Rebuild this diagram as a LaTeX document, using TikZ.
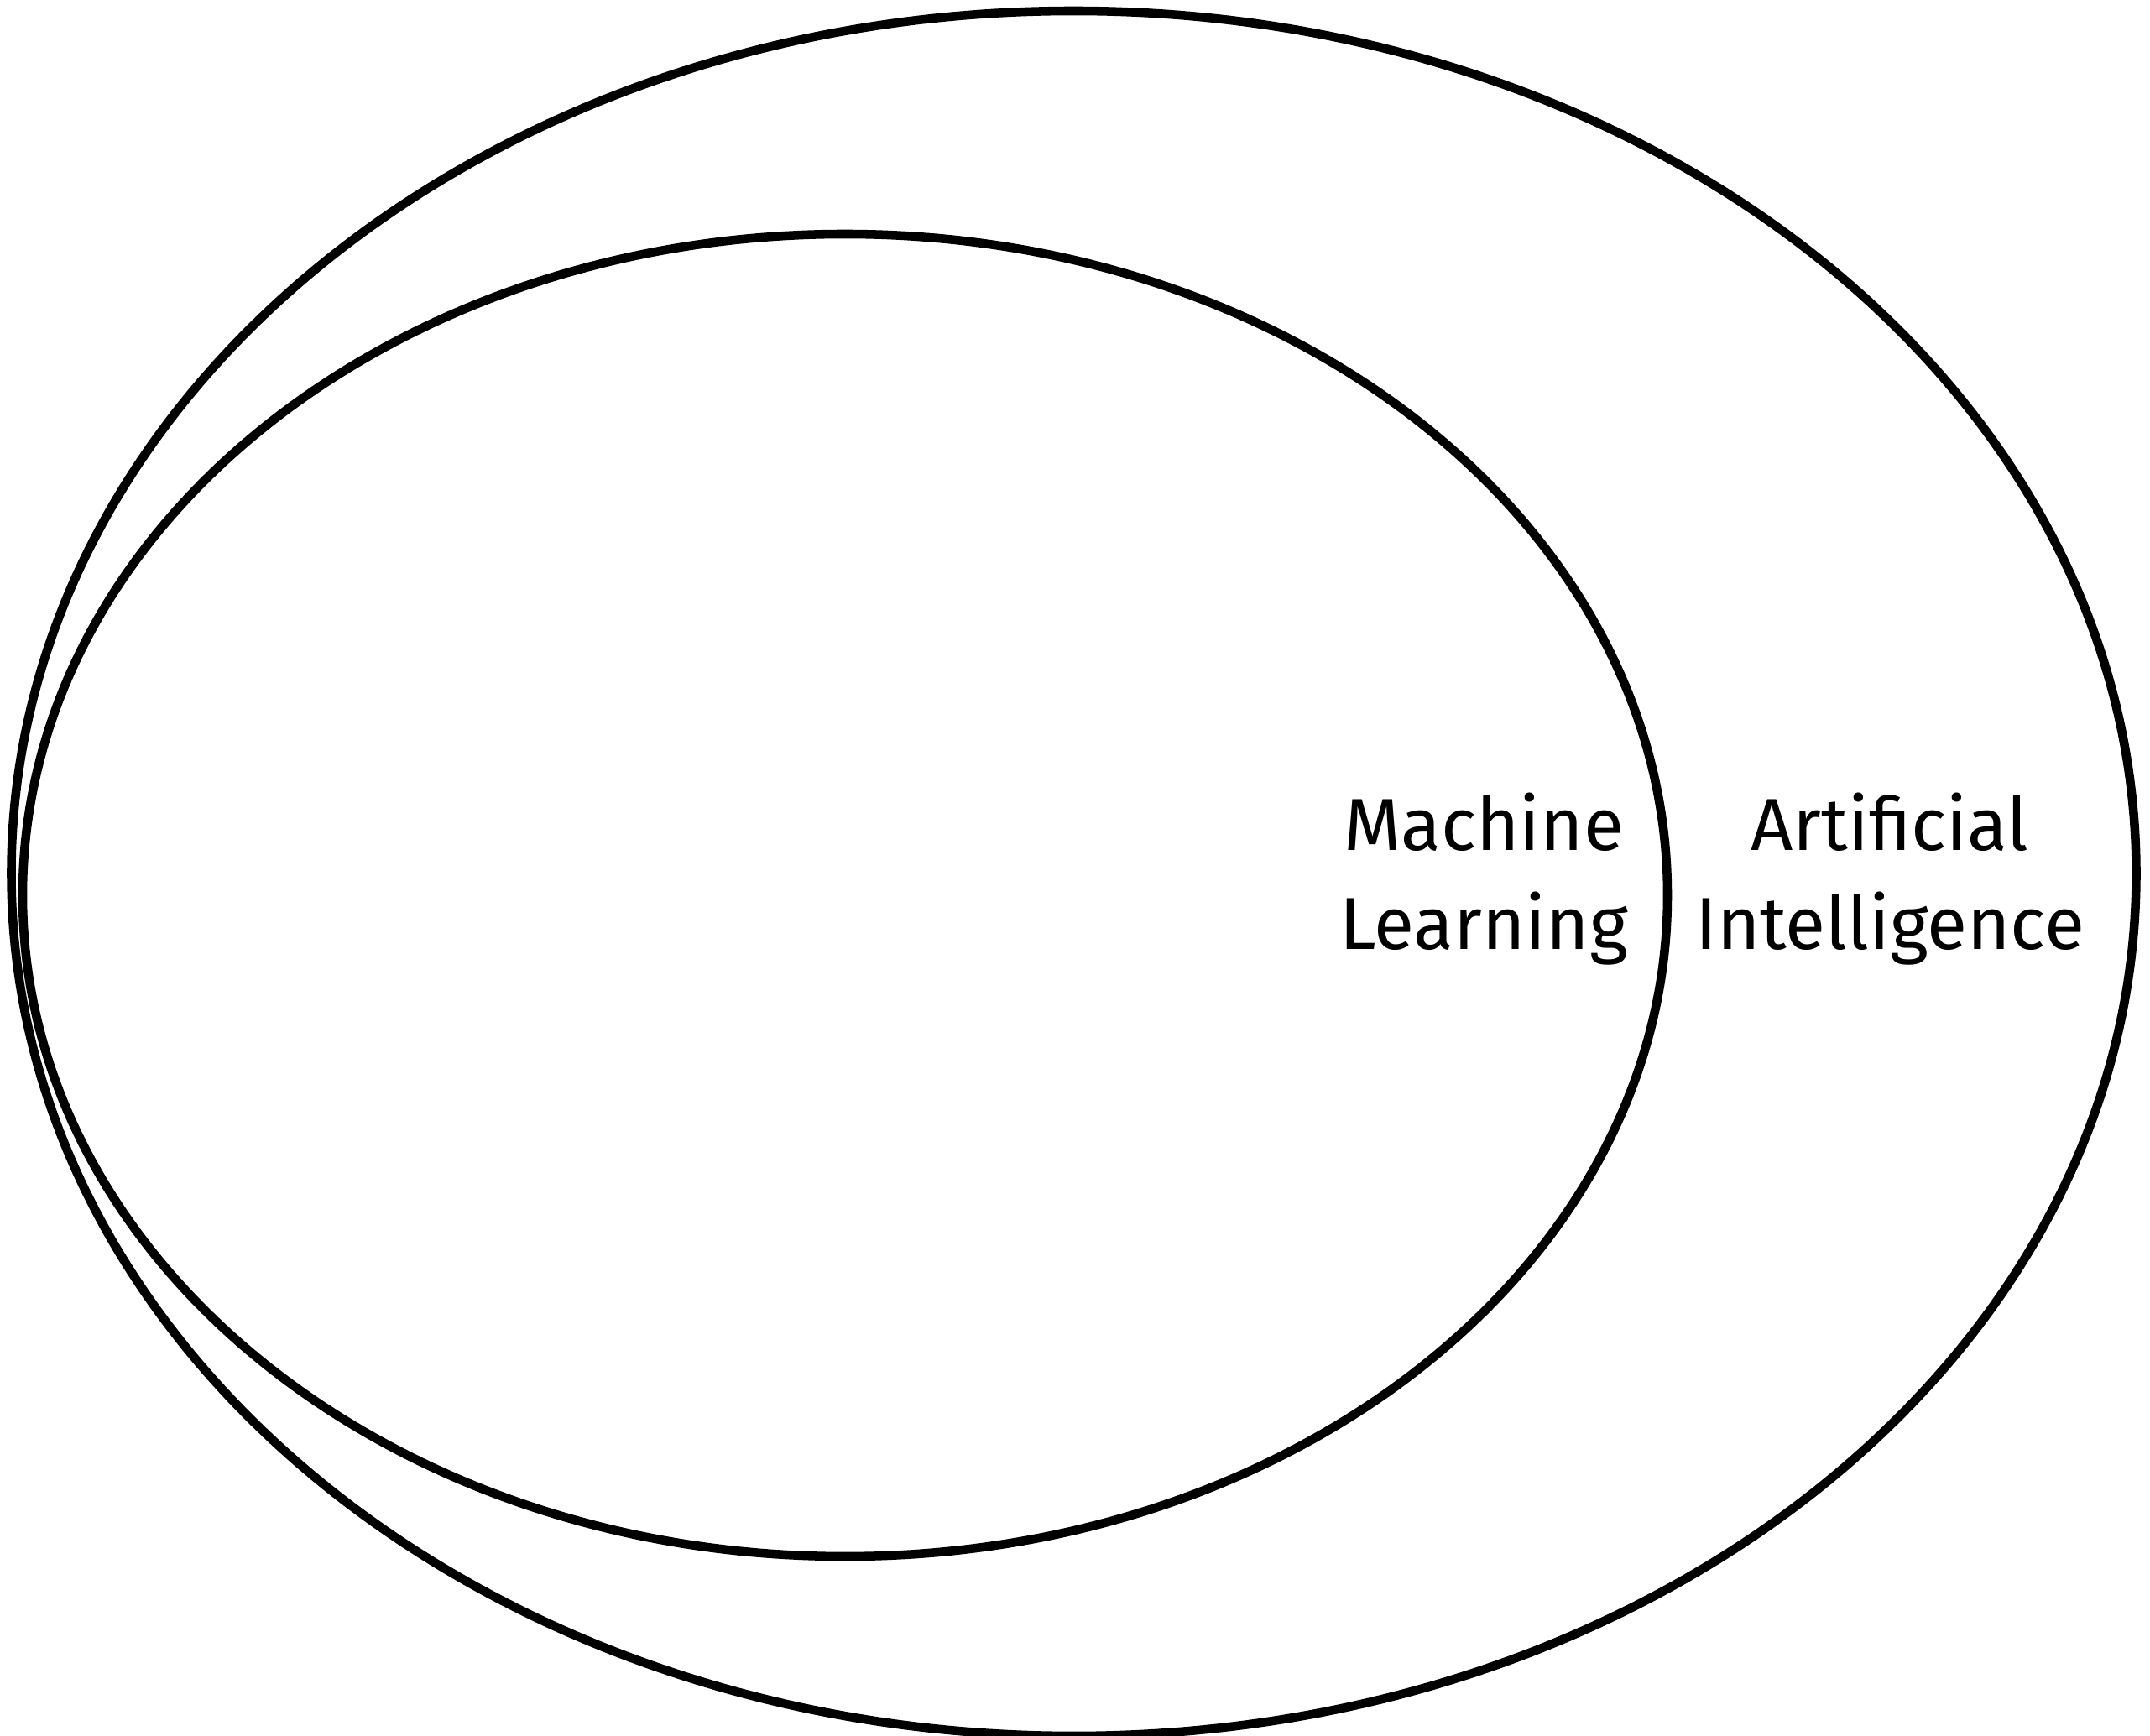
\documentclass[tikz,border=0pt]{standalone}
\usepackage{fontspec}
\setmainfont{Fira Sans}
\tikzset{
  setline/.style={line width=3pt},
  setlabel/.style={align=center,anchor=base,inner sep=0pt,
    font={\fontsize{25}{33.7}\selectfont}}
}

\begin{document}
\begin{tikzpicture}
  \useasboundingbox (0,0) rectangle (25.62,20.69);
  \coordinate (AIc) at (12.795,10.28);
  \coordinate (MLc) at (10.07,10.02);
  % the two sets
  \draw[setline] (AIc) ellipse[x radius=12.66,y radius=10.28];
  \draw[setline] (MLc) ellipse[x radius=9.80,y radius=7.88];
  % labels
  \node[setlabel] (ML) at (17.68,9.37) {Machine\\Learning};
  \node[setlabel] (AI) at (22.52,9.37) {Artificial\\Intelligence};
\end{tikzpicture}
\end{document}
